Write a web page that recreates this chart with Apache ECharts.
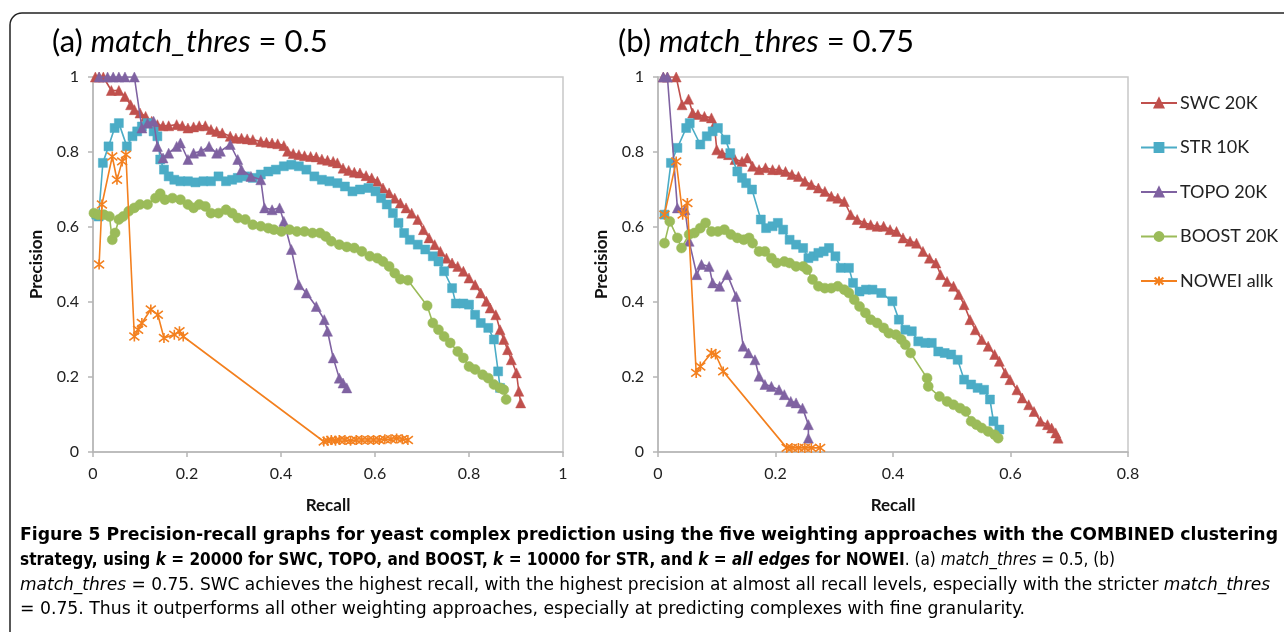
<!DOCTYPE html>
<html>
<head>
<meta charset="utf-8">
<script src="https://cdn.jsdelivr.net/npm/echarts@6/dist/echarts.min.js"></script>
<style>
html,body{margin:0;padding:0;background:#fff;}
#chart{width:1284px;height:632px;}
</style>
</head>
<body>
<div id="chart"></div>
<script>
// ---------- DATA ----------
const seriesNames = ['SWC 20K', 'STR 10K', 'TOPO 20K', 'BOOST 20K', 'NOWEI allk'];
const xTicksA = [0, 0.2, 0.4, 0.6, 0.8, 1];
const xTicksB = [0, 0.2, 0.4, 0.6, 0.8];
const yTicks = [0, 0.2, 0.4, 0.6, 0.8, 1];

// Panel (a) match_thres = 0.5  — [recall, precision]
const swcA = [[0.005,1.0],[0.013,1.0],[0.022,1.0],[0.039,0.964],[0.055,0.964],[0.068,0.948],[0.08,0.926],[0.088,0.913],[0.1,0.904],[0.112,0.895],[0.125,0.882],[0.137,0.873],[0.149,0.87],[0.161,0.87],[0.178,0.873],[0.19,0.87],[0.202,0.864],[0.214,0.867],[0.226,0.87],[0.239,0.87],[0.251,0.86],[0.263,0.855],[0.275,0.851],[0.292,0.842],[0.304,0.837],[0.316,0.837],[0.328,0.835],[0.34,0.833],[0.357,0.828],[0.369,0.826],[0.381,0.824],[0.393,0.822],[0.406,0.817],[0.414,0.802],[0.426,0.796],[0.438,0.793],[0.45,0.79],[0.463,0.788],[0.475,0.787],[0.487,0.781],[0.499,0.778],[0.511,0.775],[0.52,0.771],[0.532,0.757],[0.544,0.751],[0.556,0.746],[0.568,0.744],[0.581,0.737],[0.593,0.731],[0.605,0.722],[0.617,0.704],[0.63,0.691],[0.642,0.677],[0.654,0.664],[0.666,0.651],[0.678,0.637],[0.691,0.62],[0.703,0.593],[0.715,0.571],[0.727,0.553],[0.739,0.535],[0.752,0.517],[0.764,0.504],[0.776,0.495],[0.788,0.482],[0.8,0.464],[0.813,0.446],[0.825,0.424],[0.837,0.402],[0.845,0.384],[0.857,0.366],[0.866,0.326],[0.874,0.3],[0.882,0.273],[0.89,0.246],[0.901,0.211],[0.906,0.162],[0.91,0.131]];
const strA = [[0.007,0.633],[0.012,0.628],[0.021,0.771],[0.033,0.815],[0.046,0.864],[0.055,0.877],[0.072,0.815],[0.084,0.842],[0.094,0.855],[0.104,0.868],[0.116,0.877],[0.129,0.855],[0.137,0.842],[0.143,0.78],[0.151,0.753],[0.161,0.735],[0.173,0.726],[0.186,0.722],[0.202,0.722],[0.218,0.719],[0.235,0.722],[0.251,0.722],[0.267,0.735],[0.283,0.722],[0.296,0.726],[0.308,0.731],[0.324,0.735],[0.34,0.731],[0.357,0.74],[0.373,0.748],[0.389,0.753],[0.406,0.762],[0.422,0.766],[0.438,0.762],[0.454,0.753],[0.471,0.735],[0.487,0.726],[0.503,0.722],[0.52,0.717],[0.536,0.708],[0.552,0.695],[0.568,0.7],[0.586,0.704],[0.601,0.695],[0.613,0.677],[0.625,0.66],[0.638,0.637],[0.65,0.611],[0.662,0.584],[0.674,0.566],[0.691,0.553],[0.707,0.54],[0.723,0.522],[0.735,0.508],[0.747,0.482],[0.764,0.437],[0.772,0.396],[0.788,0.396],[0.8,0.393],[0.813,0.366],[0.825,0.344],[0.841,0.331],[0.853,0.3],[0.862,0.215],[0.866,0.171]];
const topoA = [[0.013,1.0],[0.031,1.0],[0.043,1.0],[0.055,1.0],[0.068,1.0],[0.088,1.0],[0.104,0.864],[0.116,0.877],[0.129,0.882],[0.137,0.815],[0.149,0.784],[0.161,0.797],[0.178,0.815],[0.186,0.824],[0.202,0.78],[0.214,0.797],[0.23,0.802],[0.247,0.815],[0.263,0.797],[0.271,0.802],[0.292,0.82],[0.308,0.78],[0.316,0.753],[0.336,0.735],[0.357,0.726],[0.365,0.651],[0.381,0.646],[0.397,0.651],[0.406,0.615],[0.422,0.54],[0.438,0.446],[0.454,0.424],[0.475,0.388],[0.492,0.353],[0.499,0.322],[0.511,0.251],[0.524,0.197],[0.532,0.184],[0.54,0.171]];
const boostA = [[0.002,0.637],[0.011,0.633],[0.023,0.633],[0.035,0.628],[0.041,0.566],[0.047,0.584],[0.055,0.62],[0.064,0.628],[0.076,0.642],[0.088,0.651],[0.1,0.66],[0.116,0.66],[0.133,0.677],[0.143,0.689],[0.153,0.673],[0.169,0.677],[0.186,0.673],[0.202,0.66],[0.214,0.651],[0.226,0.66],[0.239,0.655],[0.251,0.637],[0.267,0.637],[0.283,0.646],[0.296,0.637],[0.308,0.624],[0.324,0.62],[0.34,0.606],[0.357,0.602],[0.373,0.597],[0.385,0.593],[0.401,0.588],[0.418,0.593],[0.434,0.588],[0.45,0.588],[0.467,0.584],[0.483,0.584],[0.495,0.575],[0.507,0.562],[0.524,0.553],[0.54,0.547],[0.556,0.544],[0.572,0.535],[0.589,0.522],[0.605,0.517],[0.617,0.508],[0.63,0.495],[0.642,0.477],[0.654,0.461],[0.67,0.458],[0.711,0.39],[0.723,0.344],[0.735,0.326],[0.747,0.308],[0.76,0.291],[0.776,0.268],[0.788,0.251],[0.8,0.228],[0.813,0.22],[0.829,0.206],[0.841,0.197],[0.853,0.18],[0.866,0.171],[0.874,0.166],[0.879,0.14]];
const noweiA = [[0.013,0.5],[0.019,0.66],[0.041,0.788],[0.051,0.726],[0.062,0.775],[0.07,0.793],[0.088,0.308],[0.096,0.326],[0.104,0.344],[0.123,0.38],[0.138,0.366],[0.151,0.304],[0.173,0.313],[0.184,0.322],[0.192,0.308],[0.491,0.028],[0.499,0.03],[0.507,0.032],[0.516,0.03],[0.524,0.032],[0.536,0.032],[0.548,0.03],[0.56,0.032],[0.572,0.032],[0.585,0.032],[0.597,0.032],[0.609,0.032],[0.621,0.034],[0.634,0.034],[0.646,0.036],[0.658,0.034],[0.67,0.032]];

// Panel (b) match_thres = 0.75 — [recall, precision]
const swcB = [[0.009,1.0],[0.016,1.0],[0.031,1.0],[0.041,0.926],[0.052,0.941],[0.059,0.904],[0.068,0.9],[0.079,0.895],[0.091,0.891],[0.096,0.873],[0.1,0.806],[0.109,0.797],[0.12,0.793],[0.131,0.78],[0.143,0.775],[0.152,0.784],[0.161,0.762],[0.172,0.753],[0.183,0.758],[0.195,0.753],[0.206,0.753],[0.217,0.748],[0.228,0.74],[0.239,0.735],[0.25,0.722],[0.261,0.713],[0.273,0.704],[0.284,0.695],[0.295,0.682],[0.306,0.677],[0.317,0.668],[0.328,0.633],[0.339,0.62],[0.351,0.611],[0.362,0.606],[0.373,0.602],[0.384,0.602],[0.395,0.593],[0.406,0.588],[0.417,0.571],[0.429,0.562],[0.44,0.557],[0.451,0.535],[0.462,0.517],[0.473,0.504],[0.481,0.473],[0.492,0.455],[0.503,0.442],[0.512,0.42],[0.521,0.393],[0.531,0.353],[0.54,0.326],[0.551,0.3],[0.562,0.282],[0.573,0.26],[0.581,0.242],[0.591,0.211],[0.599,0.193],[0.611,0.166],[0.62,0.144],[0.631,0.126],[0.64,0.108],[0.651,0.082],[0.663,0.073],[0.67,0.064],[0.677,0.051],[0.681,0.037]];
const strB = [[0.011,0.633],[0.022,0.771],[0.033,0.811],[0.048,0.864],[0.054,0.877],[0.072,0.82],[0.083,0.842],[0.093,0.855],[0.102,0.864],[0.115,0.833],[0.123,0.797],[0.135,0.748],[0.143,0.731],[0.15,0.717],[0.16,0.7],[0.175,0.62],[0.184,0.597],[0.195,0.602],[0.204,0.611],[0.213,0.593],[0.224,0.566],[0.235,0.553],[0.247,0.544],[0.256,0.517],[0.265,0.522],[0.273,0.531],[0.282,0.535],[0.291,0.544],[0.302,0.522],[0.311,0.491],[0.325,0.491],[0.332,0.451],[0.343,0.428],[0.354,0.433],[0.365,0.433],[0.38,0.424],[0.399,0.402],[0.41,0.353],[0.421,0.326],[0.432,0.322],[0.443,0.295],[0.455,0.291],[0.466,0.291],[0.477,0.268],[0.488,0.264],[0.499,0.26],[0.51,0.246],[0.521,0.193],[0.533,0.18],[0.544,0.171],[0.555,0.166],[0.565,0.14],[0.571,0.082],[0.581,0.06]];
const topoB = [[0.009,1.0],[0.016,1.0],[0.033,0.651],[0.046,0.646],[0.053,0.562],[0.066,0.473],[0.074,0.5],[0.087,0.495],[0.093,0.451],[0.105,0.442],[0.118,0.473],[0.133,0.415],[0.145,0.282],[0.154,0.264],[0.165,0.246],[0.172,0.202],[0.182,0.18],[0.193,0.175],[0.206,0.166],[0.215,0.153],[0.226,0.135],[0.235,0.131],[0.246,0.117],[0.256,0.073],[0.256,0.037]];
const boostB = [[0.011,0.557],[0.02,0.615],[0.033,0.571],[0.04,0.544],[0.053,0.58],[0.062,0.584],[0.072,0.597],[0.081,0.611],[0.091,0.588],[0.102,0.588],[0.113,0.593],[0.124,0.58],[0.135,0.571],[0.146,0.566],[0.155,0.571],[0.161,0.557],[0.172,0.535],[0.182,0.535],[0.193,0.517],[0.202,0.504],[0.215,0.508],[0.224,0.504],[0.235,0.495],[0.247,0.495],[0.254,0.486],[0.263,0.46],[0.273,0.442],[0.284,0.437],[0.295,0.437],[0.306,0.442],[0.317,0.433],[0.325,0.424],[0.334,0.406],[0.343,0.388],[0.353,0.371],[0.362,0.353],[0.373,0.344],[0.384,0.331],[0.393,0.317],[0.405,0.313],[0.414,0.3],[0.421,0.286],[0.43,0.264],[0.458,0.197],[0.46,0.175],[0.479,0.148],[0.492,0.135],[0.503,0.126],[0.514,0.117],[0.524,0.108],[0.533,0.082],[0.542,0.073],[0.551,0.064],[0.562,0.055],[0.573,0.046],[0.579,0.037]];
const noweiB = [[0.011,0.633],[0.031,0.775],[0.042,0.633],[0.05,0.664],[0.065,0.211],[0.072,0.228],[0.091,0.264],[0.098,0.26],[0.111,0.215],[0.219,0.011],[0.228,0.011],[0.239,0.011],[0.25,0.011],[0.261,0.011],[0.276,0.011]];

// ---------- STYLE ----------
const colors = ['#C0504D', '#4BACC6', '#7F62A1', '#9BBB59', '#F3801F'];
const FONT = 'Lato, "Open Sans", sans-serif';
const starPath = 'path://M0,0L10,10M10,0L0,10M5,-1.5L5,11.5';
const symbols = ['triangle', 'rect', 'triangle', 'circle', starPath];
const symSizes = [10, 9, 10, 10, 10];

const panelData = [[swcA, strA, topoA, boostA, noweiA], [swcB, strB, topoB, boostB, noweiB]];

const chart = echarts.init(document.getElementById('chart'), null, {renderer: 'canvas'});

function axisCommon(ticks, name, isX) {
  return {
    type: 'value',
    min: ticks[0], max: ticks[ticks.length - 1], interval: ticks[1] - ticks[0],
    name: name, nameLocation: 'middle',
    nameGap: isX ? 45 : 48,
    nameTextStyle: {fontFamily: FONT, fontSize: 17, fontWeight: 'bold', color: '#111'},
    axisLine: {show: true, onZero: false, lineStyle: {color: '#B5B5B5', width: 1.5}},
    axisTick: {show: true, inside: false, length: 5, lineStyle: {color: '#B5B5B5', width: 1.5}},
    axisLabel: {fontFamily: FONT, fontSize: 16, color: '#222', margin: 14},
    splitLine: {show: false}
  };
}

const grids = [
  {left: 93, top: 77, width: 470, height: 375, show: true, borderColor: '#C8C8C8', borderWidth: 1.5, backgroundColor: 'transparent'},
  {left: 658, top: 77, width: 470, height: 375, show: true, borderColor: '#C8C8C8', borderWidth: 1.5, backgroundColor: 'transparent'}
];

const series = [];
panelData.forEach((set, p) => {
  set.forEach((d, i) => {
    const isStar = i === 4;
    series.push({
      name: seriesNames[i], type: 'line', xAxisIndex: p, yAxisIndex: p,
      data: d, symbol: symbols[i], symbolSize: symSizes[i], showSymbol: true,
      lineStyle: {color: colors[i], width: 1.6},
      itemStyle: isStar ? {color: colors[i], borderColor: colors[i], borderWidth: 1.6}
                        : {color: colors[i], borderColor: colors[i], borderWidth: 0.5},
      z: 2 + i, silent: true, animation: false
    });
  });
});

// ---------- TEXT (titles + caption) ----------
const capFamily = '"DejaVu Sans Condensed", "Liberation Sans Narrow", sans-serif';
const capSize = 17;
const capLines = [
  [['b', 'Figure 5 Precision-recall graphs for yeast complex prediction using the five weighting approaches with the COMBINED clustering']],
  [['b', 'strategy, using '], ['bi', 'k'], ['b', ' = 20000 for SWC, TOPO, and BOOST, '], ['bi', 'k'], ['b', ' = 10000 for STR, and '], ['bi', 'k'], ['b', ' = '], ['bi', 'all edges'], ['b', ' for NOWEI'], ['n', '. (a) '], ['i', 'match_thres'], ['n', ' = 0.5, (b)']],
  [['i', 'match_thres'], ['n', ' = 0.75. SWC achieves the highest recall, with the highest precision at almost all recall levels, especially with the stricter '], ['i', 'match_thres']],
  [['n', '= 0.75. Thus it outperforms all other weighting approaches, especially at predicting complexes with fine granularity.']]
];
const capY = [536, 561, 586, 610];
const capWidths = [1258, 1095, 1250, 1005];
const styleDefs = {
  b: {fontWeight: 'bold', fontStyle: 'normal', color: '#111'},
  bi: {fontWeight: 'bold', fontStyle: 'italic', color: '#111'},
  n: {fontWeight: 'normal', fontStyle: 'normal', color: '#333'},
  i: {fontWeight: 'normal', fontStyle: 'italic', color: '#333'}
};
const cv = document.createElement('canvas').getContext('2d');
function segWidth(segs, size, fam) {
  let w = 0;
  segs.forEach(([s, t]) => {
    const st = styleDefs[s];
    cv.font = `${st.fontStyle} ${st.fontWeight} ${size}px ${fam}`;
    w += cv.measureText(t).width;
  });
  return w;
}
function richOf(size, fam) {
  const r = {};
  Object.keys(styleDefs).forEach(k => {
    r[k] = Object.assign({fontSize: size, fontFamily: fam}, styleDefs[k]);
  });
  return r;
}
const graphics = [
  {type: 'rect', shape: {x: 10, y: 13, width: 1300, height: 660, r: 12},
   style: {fill: 'none', stroke: '#222', lineWidth: 1.5}, z: 0, silent: true}
];
capLines.forEach((segs, li) => {
  const sc = capWidths[li] / segWidth(segs, capSize, capFamily);
  graphics.push({
    type: 'text', x: 20, y: capY[li], scaleX: sc, silent: true,
    style: {text: segs.map(([s, t]) => `{${s}|${t}}`).join(''), rich: richOf(capSize, capFamily),
            verticalAlign: 'middle', align: 'left', font: `${capSize}px ${capFamily}`}
  });
});
const titleRich = {
  n: {fontSize: 31, fontFamily: FONT, color: '#111'},
  i: {fontSize: 31, fontFamily: FONT, fontStyle: 'italic', color: '#111'}
};
graphics.push({type: 'text', x: 52, y: 42, silent: true,
  style: {text: '{n|(a) }{i|match_thres}{n| = 0.5}', rich: titleRich, verticalAlign: 'middle'}});
graphics.push({type: 'text', x: 618, y: 42, silent: true,
  style: {text: '{n|(b) }{i|match_thres}{n| = 0.75}', rich: titleRich, verticalAlign: 'middle'}});

chart.setOption({
  animation: false,
  backgroundColor: '#fff',
  color: colors,
  grid: grids,
  xAxis: [axisCommon(xTicksA, 'Recall', true), Object.assign(axisCommon(xTicksB, 'Recall', true), {gridIndex: 1})],
  yAxis: [axisCommon(yTicks, 'Precision', false), Object.assign(axisCommon(yTicks, 'Precision', false), {gridIndex: 1})],
  legend: {
    orient: 'vertical', left: 1135, top: 88, itemWidth: 36, itemHeight: 11, itemGap: 24.5,
    data: seriesNames, selectedMode: false,
    textStyle: {fontFamily: FONT, fontSize: 18, color: '#222', lineHeight: 20, padding: [0, 0, 0, -2]}
  },
  series: series,
  graphic: graphics
});
</script>
</body>
</html>
